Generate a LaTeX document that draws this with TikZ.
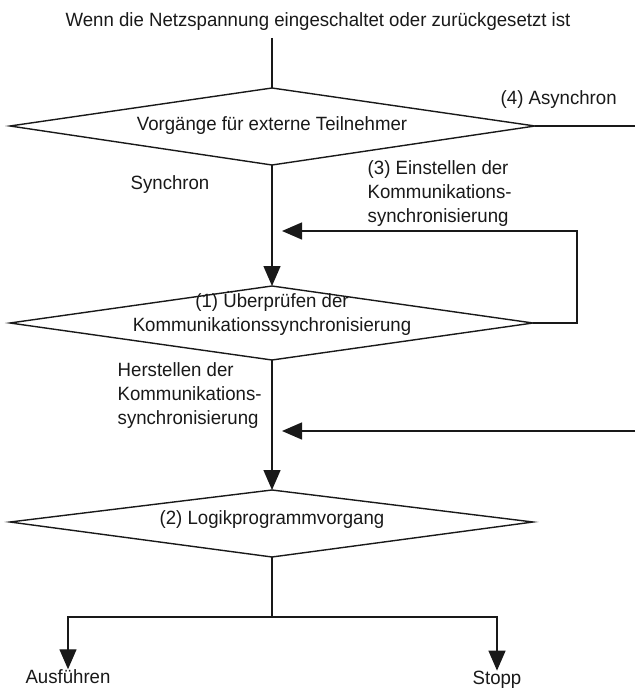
\documentclass[tikz,border=0pt]{standalone}
\usepackage{fontspec}
\setmainfont[FakeStretch=0.97]{Liberation Sans}
\usetikzlibrary{arrows.meta}
\begin{document}
\begin{tikzpicture}[x=1pt,y=-1pt,
  line width=1.4pt,
  flow/.style={draw=black!90},
  arr/.style={flow,-{Triangle[length=20pt,width=17pt]}},
  lbl/.style={inner sep=0pt,font=\fontsize{19.2}{24}\selectfont,text=black!90},
  decision/.style={flow,line join=miter}]
\useasboundingbox (0,0) rectangle (635,690);

% title
\node[lbl] (title) at (318,22) {Wenn die Netzspannung eingeschaltet oder zurückgesetzt ist};
\coordinate (start) at (272,38);

% decision 1: external participants
\coordinate (d1t) at (272,88);
\coordinate (d1l) at (10,126);
\coordinate (d1r) at (535,126);
\coordinate (d1b) at (272,165);
\draw[decision] (d1t) -- (d1r) -- (d1b) -- (d1l) -- cycle;
\node[lbl] (d1txt) at (272,126) {Vorgänge für externe Teilnehmer};

% decision 2: check synchronisation
\coordinate (d2t) at (272,286);
\coordinate (d2l) at (10,323);
\coordinate (d2r) at (533,323);
\coordinate (d2b) at (272,360);
\draw[decision] (d2t) -- (d2r) -- (d2b) -- (d2l) -- cycle;
\node[lbl,align=center] (d2txt) at (272,313) {(1) Überprüfen der\\Kommunikationssynchronisierung};

% decision 3: logic program
\coordinate (d3t) at (272,490);
\coordinate (d3l) at (10,522);
\coordinate (d3r) at (533,522);
\coordinate (d3b) at (272,557);
\draw[decision] (d3t) -- (d3r) -- (d3b) -- (d3l) -- cycle;
\node[lbl] (d3txt) at (272,520) {(2) Logikprogrammvorgang};

% connectors
\draw[flow] (start) -- (d1t);
\coordinate (asyncEnd) at (635,126);
\draw[flow] (d1r) -- (asyncEnd);
\node[lbl,anchor=west] (async) at (500,100) {(4) Asynchron};
\node[lbl] (sync) at (170,185) {Synchron};

\draw[arr] (d1b) -- (d2t);
\coordinate (loopA) at (577,323);
\coordinate (loopB) at (577,231);
\coordinate (loopEnd) at (282,231);
\draw[arr] (d2r) -- (loopA) -- (loopB) -- (loopEnd);
\node[lbl,anchor=north west,align=left] (set) at (367,160)
  {(3) Einstellen der\\Kommunikations-\\synchronisierung};

\draw[arr] (d2b) -- (d3t);
\node[lbl,anchor=north west,align=left] (make) at (117,362)
  {Herstellen der\\Kommunikations-\\synchronisierung};
\coordinate (inB) at (635,431);
\coordinate (inEnd) at (282,431);
\draw[arr] (inB) -- (inEnd);

% branches
\coordinate (split) at (272,617);
\coordinate (runC) at (68,617);
\coordinate (stopC) at (497,617);
\node[lbl] (run) at (68,677) {Ausführen};
\node[lbl] (stop) at (497,680) {Stopp};
\draw[flow] (d3b) -- (split);
\draw[arr] (split) -- (runC) -- (run.north);
\draw[arr] (split) -- (stopC) -- (stop.north);
\end{tikzpicture}
\end{document}
